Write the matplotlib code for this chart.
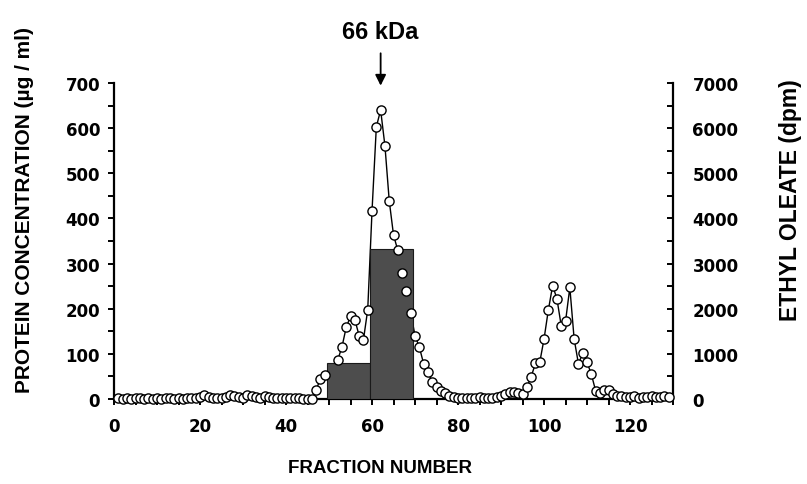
import matplotlib
matplotlib.use("Agg")
import matplotlib.pyplot as plt
from matplotlib.ticker import MultipleLocator

plt.rcParams['font.family'] = ['Liberation Sans', 'DejaVu Sans']
plt.rcParams['font.weight'] = 'bold'

# fractions 50-51 are hidden under the first bar in the original
fractions = list(range(1, 50)) + list(range(52, 130))

protein = [2, 1, 2, 1, 2, 2, 1, 2, 1, 2, 1, 2, 2, 1, 2, 1, 2, 2, 3,
           4, 8, 4, 3, 2, 3, 5, 9, 7, 5, 3, 9, 6, 4, 3, 6, 4, 3, 2, 2,
           3, 2, 2, 3, 1, 1, 1,
           20, 45, 54,
           86, 115, 159, 183, 176, 140, 131, 198, 417, 603, 640, 561, 439,
           363, 329, 278, 239, 191, 140, 115, 78, 59, 38, 26, 18, 13, 7,
           5, 3, 3, 2,
           3, 2, 4, 3, 2, 3, 5, 6,
           11, 16, 15, 13, 11, 26, 49, 79, 81, 133, 197, 251, 222, 162,
           172, 247, 133, 78, 101, 81, 55, 18, 13, 21, 20, 11, 7,
           6, 5, 4, 6, 3, 5, 4, 6, 5, 4, 6, 5]

bar_left = [49.5, 59.5]
bar_width = 10
oleate_dpm = [800, 3330]

fig = plt.figure(figsize=(8.07, 4.85), dpi=100)
ax = fig.add_axes([0.1413, 0.1753, 0.6927, 0.6515])
ax2 = ax.twinx()
ax3 = ax.twinx()

# line under the bars, circles on top
ax.plot(fractions, protein, color='black', lw=1.0, zorder=2)
ax2.bar(bar_left, oleate_dpm, width=bar_width, align='edge',
        color='#4d4d4d', edgecolor='#1a1a1a', lw=0.8, zorder=2)
ax3.plot(fractions, protein, ls='none', marker='o', ms=6.6,
         mfc='white', mec='black', mew=1.0, clip_on=False, zorder=3)

ax.set_xlim(0, 130)
ax.set_ylim(0, 700)
ax2.set_ylim(0, 7000)
ax3.set_ylim(0, 700)
ax3.axis('off')

for a in (ax, ax2):
    a.spines['top'].set_visible(False)
ax.spines['right'].set_visible(False)
ax2.spines['left'].set_visible(False)
ax2.spines['bottom'].set_visible(False)
for s in ('left', 'bottom'):
    ax.spines[s].set_linewidth(1.6)
ax2.spines['right'].set_linewidth(1.6)

ax.xaxis.set_major_locator(MultipleLocator(20))
ax.xaxis.set_minor_locator(MultipleLocator(5))
ax.yaxis.set_major_locator(MultipleLocator(100))
ax.yaxis.set_minor_locator(MultipleLocator(50))
ax2.yaxis.set_major_locator(MultipleLocator(1000))
ax2.yaxis.set_minor_locator(MultipleLocator(500))

ax.tick_params(axis='both', which='both', direction='out', length=4,
               width=1.4, labelsize=12, pad=6)
ax.tick_params(axis='x', which='major', pad=9)
ax2.tick_params(axis='y', which='both', direction='in', length=4,
                width=1.4, labelsize=12, pad=14)
for lab in ax.get_xticklabels() + ax.get_yticklabels() + ax2.get_yticklabels():
    lab.set_fontweight('bold')
    lab.set_family('DejaVu Sans')

fig.text(0.030, 0.567, 'PROTEIN CONCENTRATION (\u00b5g / ml)', rotation=90,
         ha='center', va='center', fontsize=15, fontweight='bold')
fig.text(0.979, 0.588, 'ETHYL OLEATE (dpm)', rotation=90,
         ha='center', va='center', fontsize=16.5, fontweight='bold')
fig.text(0.471, 0.035, 'FRACTION NUMBER', ha='center', va='center',
         fontsize=13.5, fontweight='bold')

ax.annotate('', xy=(62, 688), xytext=(62, 772),
            arrowprops=dict(arrowstyle='-|>', color='black', lw=1.3,
                            mutation_scale=16), annotation_clip=False)
ax.text(62, 815, '66 kDa', ha='center', va='center', fontsize=17,
        fontweight='bold', family=['Liberation Sans Narrow', 'Liberation Sans'],
        clip_on=False)

fig.savefig('out.png', dpi=100)
